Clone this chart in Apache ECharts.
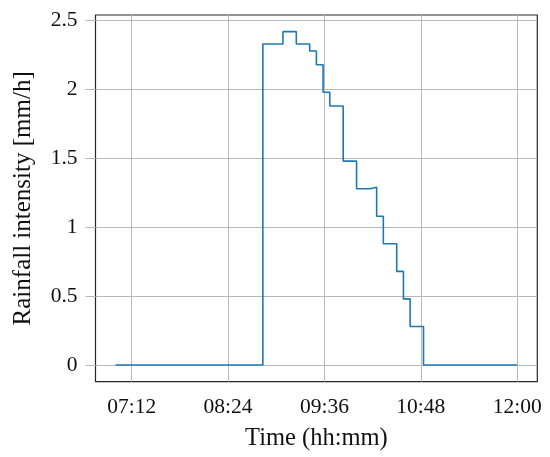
<!DOCTYPE html>
<html>
<head>
<meta charset="utf-8">
<script src="https://cdn.jsdelivr.net/npm/echarts@6/dist/echarts.min.js"></script>
<style>
html,body{margin:0;padding:0;background:#fff;}
#chart{width:550px;height:457px;}
</style>
</head>
<body>
<div id="chart"></div>
<script>
// Step start times (hh:mm) and rainfall intensity [mm/h] held from that time
const times = ['07:00','08:50','09:05','09:15','09:25','09:30','09:35','09:40','09:50','10:00','10:10','10:15','10:20','10:30','10:35','10:40','10:50','12:00'];
const intensity = [0,2.33,2.42,2.33,2.28,2.18,1.98,1.88,1.48,1.28,1.29,1.08,0.88,0.68,0.48,0.28,0,0];
const xTickLabels = ['07:12','08:24','09:36','10:48','12:00'];
const yTickValues = [0,0.5,1,1.5,2,2.5];

function toMin(s){const p=s.split(':');return (+p[0])*60+(+p[1]);}
function toHHMM(m){const h=Math.floor(m/60),mm=Math.round(m%60);return String(h).padStart(2,'0')+':'+String(mm).padStart(2,'0');}

const data = times.map((t,i)=>[toMin(t),intensity[i]]);
const xTicks = xTickLabels.map(toMin);
const xMin = toMin('06:45'), xMax = toMin('12:15');
const FONT = '"Liberation Serif", serif';
const GRID = '#b8b8b8';

const chart = echarts.init(document.getElementById('chart'), null, {renderer:'canvas'});
chart.setOption({
  animation:false,
  backgroundColor:'#fff',
  grid:{left:95.5,right:12.7,top:15,bottom:75.3,show:true,borderColor:'#262626',borderWidth:1.2,containLabel:false},
  xAxis:{
    type:'value',min:xMin,max:xMax,
    name:'Time (hh:mm)',nameLocation:'middle',nameGap:44,
    nameTextStyle:{fontFamily:FONT,fontSize:24.5,color:'#111'},
    axisLine:{show:false},
    axisTick:{show:true,inside:false,length:10,lineStyle:{color:GRID,width:1},customValues:xTicks},
    axisLabel:{fontFamily:FONT,fontSize:21.5,color:'#111',margin:15,customValues:xTicks,formatter:v=>toHHMM(v)},
    splitLine:{show:true,lineStyle:{color:GRID,width:1}}
  },
  yAxis:{
    type:'value',min:-0.121,max:2.541,
    name:'Rainfall intensity [mm/h]',nameLocation:'middle',nameGap:60,nameRotate:90,
    nameTextStyle:{fontFamily:FONT,fontSize:25,color:'#111'},
    axisLine:{show:false},
    axisTick:{show:true,inside:false,length:10,lineStyle:{color:GRID,width:1},customValues:yTickValues},
    axisLabel:{fontFamily:FONT,fontSize:21.5,color:'#111',margin:18,customValues:yTickValues,formatter:v=>String(v)},
    splitLine:{show:true,lineStyle:{color:GRID,width:1}}
  },
  series:[{
    type:'line',step:'end',data:data,showSymbol:false,
    lineStyle:{color:'#1f77b4',width:1.6},
    itemStyle:{color:'#1f77b4'}
  }]
});
</script>
</body>
</html>
